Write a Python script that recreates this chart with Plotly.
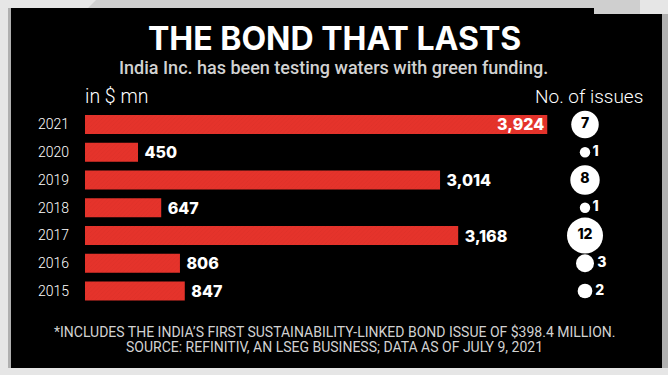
import plotly.graph_objects as go

# ---- data ----
years = ["2021", "2020", "2019", "2018", "2017", "2016", "2015"]
amount_mn = [3924, 450, 3014, 647, 3168, 806, 847]
issues = [7, 1, 8, 1, 12, 3, 2]

title = "THE BOND THAT LASTS"
subtitle = "India Inc. has been testing waters with green funding."
unit_label = "in $ mn"
issues_label = "No. of issues"
footnote = "*INCLUDES THE INDIA\u2019S FIRST SUSTAINABILITY-LINKED BOND ISSUE OF $398.4 MILLION."
source = "SOURCE: REFINITIV, AN LSEG BUSINESS; DATA AS OF JULY 9, 2021"

W, H = 668, 375


def px(x):
    return x / W


def py(y):
    return 1 - y / H


RED = "#e5332b"
fig = go.Figure()

# bars
bar_pos = ["inside" if v > 3500 else "outside" for v in amount_mn]
bar_txt = [f"{v:,}" if p == "inside" else f" {v:,}" for v, p in zip(amount_mn, bar_pos)]
fig.add_trace(go.Bar(
    x=amount_mn, y=years, orientation="h",
    marker=dict(color=RED, line=dict(width=0),
                pattern=dict(shape="/", fgcolor="#c92a22", size=3, solidity=0.15)),
    width=0.68,
    text=bar_txt, textposition=bar_pos, insidetextanchor="end",
    constraintext="none", cliponaxis=False,
    textfont=dict(family="Inter", size=16, color="white", weight=800),
    hoverinfo="skip",
))

# issue bubbles
big = [n >= 5 for n in issues]
fig.add_trace(go.Scatter(
    x=[0] * len(issues), y=years, xaxis="x2", mode="markers+text",
    marker=dict(size=issues, sizemode="area", sizeref=1 / 54, color="white",
                opacity=1, line=dict(width=0)),
    text=[str(n) for n in issues],
    textposition=["middle center" if b else "middle right" for b in big],
    textfont=dict(family="Inter", size=14, weight=800,
                  color=["black" if b else "white" for b in big]),
    cliponaxis=False, hoverinfo="skip",
))

shapes = [
    # hatched-looking top band and border strips
    dict(type="path", xref="paper", yref="paper",
         path=(f"M {px(88)},{py(8)} L {px(96)},{py(0)} L {px(640)},{py(0)} "
               f"L {px(640)},{py(14)} L {px(88)},{py(14)} Z"),
         fillcolor="#cfcfcf", line=dict(width=0), layer="below"),
    dict(type="rect", xref="paper", yref="paper", x0=px(8), x1=px(11), y0=py(368), y1=py(8),
         fillcolor="#b0b0b0", line=dict(width=0), layer="below"),
    dict(type="rect", xref="paper", yref="paper", x0=px(662), x1=px(668), y0=py(368), y1=py(14),
         fillcolor="#b0b0b0", line=dict(width=0), layer="below"),
    # black panel with notch
    dict(type="path", xref="paper", yref="paper",
         path=(f"M {px(11)},{py(8)} L {px(594)},{py(8)} L {px(594)},{py(14)} "
               f"L {px(662)},{py(14)} L {px(662)},{py(368)} L {px(11)},{py(368)} Z"),
         fillcolor="black", line=dict(width=0), layer="below"),
]

ann = [
    dict(text=f"<b>{title}</b>", x=px(334), y=py(39), font=dict(family="Inter", size=32, color="white", weight=900)),
    dict(text=subtitle, x=px(333), y=py(67.5), font=dict(family="Roboto", size=18, color="#d2d2d2", weight=500)),
    dict(text=unit_label, x=px(83), y=py(97), xanchor="left",
         font=dict(family="Roboto", size=19.5, color="white", weight=300)),
    dict(text=issues_label, x=px(645), y=py(97), xanchor="right",
         font=dict(family="Roboto", size=19, color="white", weight=300)),
    dict(text=footnote, x=px(334), y=py(332), font=dict(family="Roboto", size=14, color="#d2d2d2")),
    dict(text=source, x=px(334), y=py(347), font=dict(family="Roboto", size=14, color="#d2d2d2")),
]
for a in ann:
    a.update(xref="paper", yref="paper", showarrow=False)
    a.setdefault("xanchor", "center")
    a["yanchor"] = "middle"

fig.update_layout(
    width=W, height=H, margin=dict(l=0, r=0, t=0, b=0),
    paper_bgcolor="#e6e6e6", plot_bgcolor="rgba(0,0,0,0)",
    showlegend=False,
    shapes=shapes, annotations=ann,
    xaxis=dict(domain=[px(85), px(600)], range=[0, 515 / 0.1178], visible=False, fixedrange=True),
    xaxis2=dict(domain=[px(570), px(600)], range=[-1, 1], anchor="y", visible=False, fixedrange=True),
    yaxis=dict(domain=[py(304.9), py(110.6)], type="category", categoryorder="array",
               categoryarray=years, range=[len(years) - 0.5, -0.5],
               showgrid=False, zeroline=False, showline=False, ticks="",
               ticklabelstandoff=15,
               tickfont=dict(family="Roboto", size=14, color="white", weight=300), fixedrange=True),
)

fig.write_html("out.html", config={"displayModeBar": False},
               post_script="document.body.style.margin='0';document.body.style.overflow='hidden';")
